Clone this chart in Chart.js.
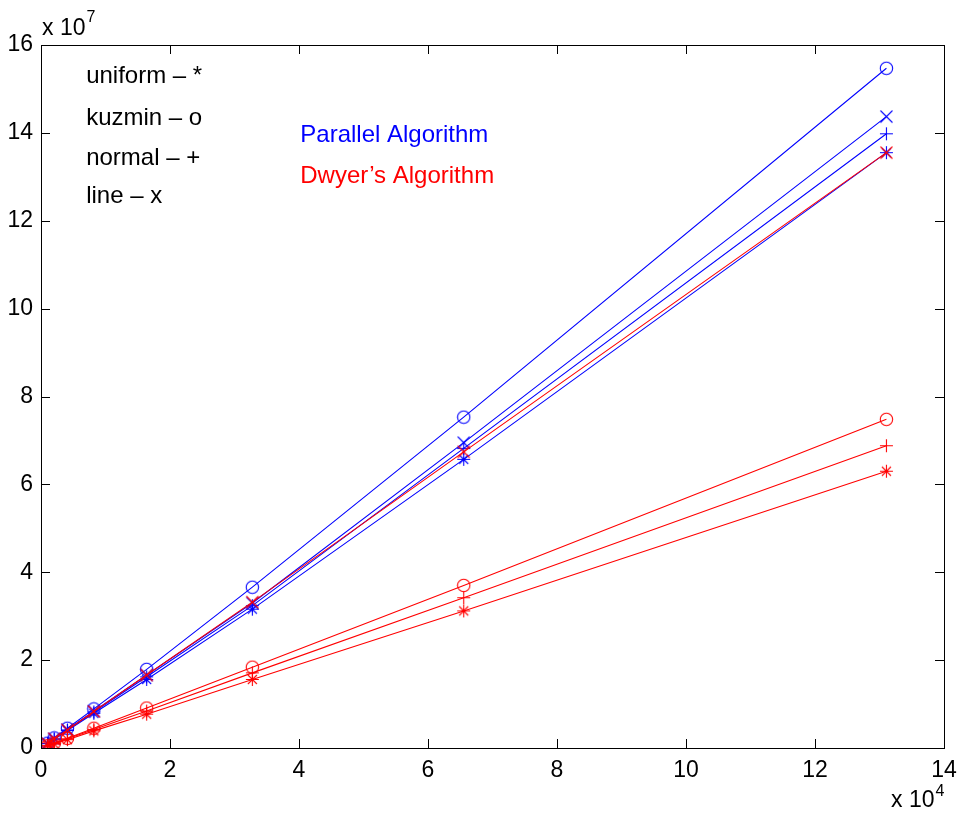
<!DOCTYPE html>
<html>
<head>
<meta charset="utf-8">
<script src="https://cdn.jsdelivr.net/npm/chart.js@4"></script>
<style>
  html, body { margin: 0; padding: 0; background: #fff; }
  #wrap { width: 959px; height: 820px; }
</style>
</head>
<body>
<div id="wrap"><canvas id="chart" width="959" height="820"></canvas></div>
<script>
// Problem size (x 10^4)
const sizes = [0.1024, 0.2048, 0.4096, 0.8192, 1.6384, 3.2768, 6.5536, 13.1072];

// Parallel algorithm (x 10^7)
const parUniform = [0.10, 0.20, 0.40, 0.79, 1.56, 3.16, 6.57, 13.55];
const parKuzmin  = [0.11, 0.23, 0.45, 0.89, 1.79, 3.66, 7.53, 15.47];
const parNormal  = [0.10, 0.21, 0.41, 0.82, 1.62, 3.24, 6.82, 13.98];
const parLine    = [0.10, 0.21, 0.42, 0.84, 1.66, 3.30, 6.95, 14.37];

// Dwyer's algorithm (x 10^7)
const dwyUniform = [0.05, 0.09, 0.19, 0.39, 0.77, 1.56, 3.12, 6.30];
const dwyKuzmin  = [0.05, 0.11, 0.22, 0.45, 0.91, 1.84, 3.70, 7.48];
const dwyNormal  = [0.05, 0.10, 0.21, 0.42, 0.84, 1.71, 3.42, 6.88];
const dwyLine    = [0.10, 0.21, 0.41, 0.83, 1.66, 3.32, 6.74, 13.55];

const xTicks = [0, 2, 4, 6, 8, 10, 12, 14];
const yTicks = [0, 2, 4, 6, 8, 10, 12, 14, 16];

// text placed in data units (left edge, baseline)
const notes = [
  { text: 'uniform \u2013 *', x: 0.70, y: 15.13, color: '#000' },
  { text: 'kuzmin \u2013 o', x: 0.70, y: 14.18, color: '#000' },
  { text: 'normal \u2013 +', x: 0.70, y: 13.27, color: '#000' },
  { text: 'line \u2013 x', x: 0.70, y: 12.40, color: '#000' },
  { text: 'Parallel Algorithm', x: 4.02, y: 13.79, color: '#0000ff' },
  { text: 'Dwyer\u2019s Algorithm', x: 4.02, y: 12.86, color: '#ff0000' }
];

const FONT = '"Liberation Sans", Arial, Helvetica, sans-serif';

// small MATLAB-like marker images
function marker(shape, color) {
  const c = document.createElement('canvas');
  c.width = 15; c.height = 15;
  const g = c.getContext('2d');
  g.strokeStyle = color;
  g.lineWidth = 1.1;
  g.beginPath();
  if (shape === 'o') {
    g.arc(7.5, 7.5, 6.2, 0, Math.PI * 2);
  }
  if (shape === '+' || shape === '*') {
    g.moveTo(1, 7.5); g.lineTo(14, 7.5);
    g.moveTo(7.5, 1); g.lineTo(7.5, 14);
  }
  if (shape === 'x') {
    g.moveTo(1.5, 1.5); g.lineTo(13.5, 13.5);
    g.moveTo(13.5, 1.5); g.lineTo(1.5, 13.5);
  }
  if (shape === '*') {
    g.moveTo(3, 3); g.lineTo(12, 12);
    g.moveTo(12, 3); g.lineTo(3, 12);
  }
  g.stroke();
  return c;
}

function series(vals, color, shape, order) {
  return {
    data: sizes.map((s, i) => ({ x: s, y: vals[i] })),
    borderColor: color,
    borderWidth: 1.1,
    pointStyle: marker(shape, color),
    pointRadius: 7,
    fill: false,
    tension: 0,
    order: order
  };
}

// inward ticks on all four sides + box + exponent labels + text notes
const matlabAxes = {
  id: 'matlabAxes',
  afterDraw(chart) {
    const { ctx, chartArea: a, scales } = chart;
    const xs = scales.x, ys = scales.y;
    ctx.save();
    ctx.strokeStyle = '#000';
    ctx.lineWidth = 1;
    ctx.beginPath();
    xTicks.forEach(v => {
      const px = Math.round(xs.getPixelForValue(v)) + 0.5;
      ctx.moveTo(px, a.bottom); ctx.lineTo(px, a.bottom - 9);
      ctx.moveTo(px, a.top); ctx.lineTo(px, a.top + 9);
    });
    yTicks.forEach(v => {
      const py = Math.round(ys.getPixelForValue(v)) + 0.5;
      ctx.moveTo(a.left, py); ctx.lineTo(a.left + 9, py);
      ctx.moveTo(a.right, py); ctx.lineTo(a.right - 9, py);
    });
    ctx.stroke();
    ctx.strokeRect(Math.round(a.left) + 0.5, Math.round(a.top) + 0.5,
      Math.round(a.right - a.left), Math.round(a.bottom - a.top));

    // exponent labels
    ctx.fillStyle = '#000';
    ctx.textBaseline = 'alphabetic';
    ctx.textAlign = 'left';
    ctx.font = '23px ' + FONT;
    ctx.fillText('x 10', a.left + 1, a.top - 10);
    let w = ctx.measureText('x 10').width;
    ctx.font = '16px ' + FONT;
    ctx.fillText('7', a.left + 1 + w + 1, a.top - 23);

    ctx.font = '23px ' + FONT;
    ctx.fillText('x 10', 891, a.bottom + 59);
    w = ctx.measureText('x 10').width;
    ctx.font = '16px ' + FONT;
    ctx.fillText('4', 891 + w + 1, a.bottom + 48);

    // notes
    ctx.font = '24px ' + FONT;
    notes.forEach(n => {
      ctx.fillStyle = n.color;
      ctx.fillText(n.text, xs.getPixelForValue(n.x), ys.getPixelForValue(n.y));
    });
    ctx.restore();
  }
};

new Chart(document.getElementById('chart').getContext('2d'), {
  type: 'line',
  data: {
    datasets: [
      series(parUniform, '#0000ff', '*', 1),
      series(parKuzmin, '#0000ff', 'o', 1),
      series(parNormal, '#0000ff', '+', 1),
      series(parLine, '#0000ff', 'x', 1),
      series(dwyUniform, '#ff0000', '*', 0),
      series(dwyKuzmin, '#ff0000', 'o', 0),
      series(dwyNormal, '#ff0000', '+', 0),
      series(dwyLine, '#ff0000', 'x', 0)
    ]
  },
  options: {
    responsive: false,
    animation: false,
    layout: { padding: { top: 45, right: 15, left: 0, bottom: 0 } },
    plugins: { legend: { display: false }, tooltip: { enabled: false } },
    scales: {
      x: {
        type: 'linear', min: 0, max: 14,
        afterBuildTicks: s => { s.ticks = xTicks.map(v => ({ value: v })); },
        afterFit: s => { s.height = 72; s.paddingLeft = 0; s.paddingRight = 0; },
        grid: { display: false, drawTicks: false },
        border: { display: false },
        ticks: { color: '#000', font: { size: 23, family: FONT }, padding: 9, maxRotation: 0 }
      },
      y: {
        type: 'linear', min: 0, max: 16,
        afterBuildTicks: s => { s.ticks = yTicks.map(v => ({ value: v })); },
        afterFit: s => { s.width = 41; s.paddingTop = 0; s.paddingBottom = 0; },
        grid: { display: false, drawTicks: false },
        border: { display: false },
        ticks: { color: '#000', font: { size: 23, family: FONT }, padding: 8 }
      }
    }
  },
  plugins: [matlabAxes]
});
</script>
</body>
</html>
